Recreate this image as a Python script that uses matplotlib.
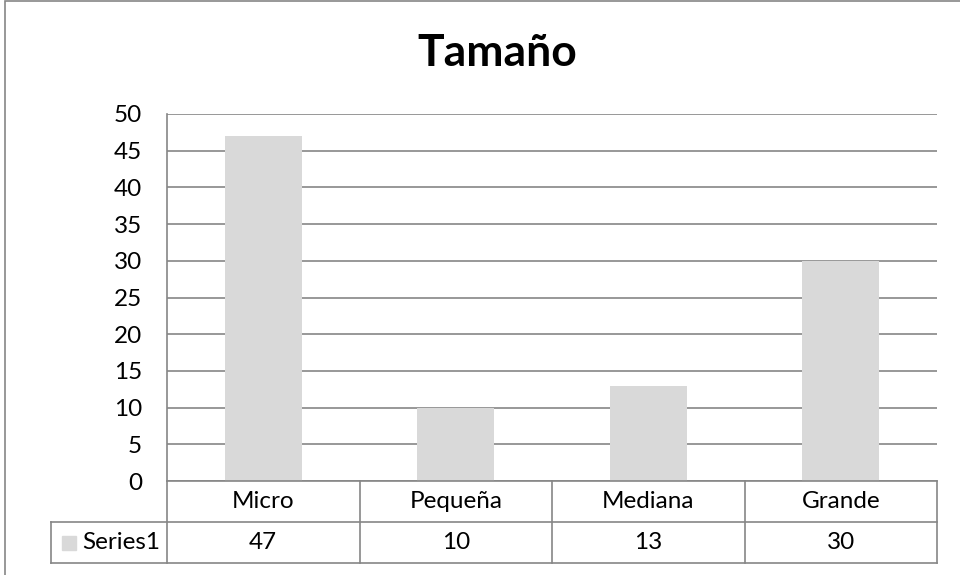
import matplotlib
matplotlib.use('Agg')
import matplotlib.pyplot as plt
from matplotlib.transforms import blended_transform_factory
from matplotlib.patches import Rectangle

# data
categories = ['Micro', 'Pequeña', 'Mediana', 'Grande']
values = [47, 10, 13, 30]
series_name = 'Series1'
y_ticks = [0, 5, 10, 15, 20, 25, 30, 35, 40, 45, 50]

bar_color = '#d9d9d9'
line_color = '#868686'
W, H = 960, 575
fs = 17.5

plt.rcParams['font.family'] = ['Lato', 'DejaVu Sans']

fig = plt.figure(figsize=(W / 100, H / 100), dpi=100)

# outer chart border (right and bottom are cut off in the original)
fig.patches.append(Rectangle((5 / W, -0.01), 1.0, 1 - 1 / H + 0.01, transform=fig.transFigure,
                             fill=False, edgecolor=line_color, linewidth=1.2))

# plot area in pixels
left, right, top, bottom = 167, 937, 114, 481
ax = fig.add_axes([left / W, 1 - bottom / H, (right - left) / W, (bottom - top) / H])

x = list(range(len(categories)))
ax.bar(x, values, width=0.4, color=bar_color, zorder=2)

ax.set_xlim(-0.5, len(categories) - 0.5)
ax.set_ylim(0, 50)
ax.set_yticks(y_ticks)
ax.set_yticklabels([str(t) for t in y_ticks], fontsize=fs)
ax.tick_params(axis='y', length=0, pad=18)
ax.set_xticks([])
ax.yaxis.grid(True, color=line_color, linewidth=1.2, zorder=1)
ax.set_axisbelow(True)
for s in ['top', 'right', 'bottom']:
    ax.spines[s].set_visible(False)
ax.spines['left'].set_color(line_color)
ax.spines['left'].set_linewidth(1.2)

# data table below the axis
tr = blended_transform_factory(ax.transData, ax.transAxes)
row_h = 41 / (bottom - top)
px_per_cat = (right - left) / len(categories)
x_left_cell = -0.5 - (left - 51) / px_per_cat
lw = 1.2

def hline(y, x0, x1):
    ax.plot([x0, x1], [y, y], color=line_color, lw=lw, transform=tr, clip_on=False)

def vline(xv, y0, y1):
    ax.plot([xv, xv], [y0, y1], color=line_color, lw=lw, transform=tr, clip_on=False)

hline(0, -0.5, len(categories) - 0.5)
hline(-row_h, x_left_cell, len(categories) - 0.5)
hline(-2 * row_h, x_left_cell, len(categories) - 0.5)
for i in range(len(categories) + 1):
    vline(i - 0.5, 0, -2 * row_h)
vline(x_left_cell, -row_h, -2 * row_h)

for i, (c, v) in enumerate(zip(categories, values)):
    ax.text(i, -row_h / 2, c, transform=tr, ha='center', va='center', fontsize=fs)
    ax.text(i, -1.5 * row_h, str(v), transform=tr, ha='center', va='center', fontsize=fs)

# legend key + series name
key_x = x_left_cell + 11 / px_per_cat
key_w = 14 / px_per_cat
key_h = 14 / (bottom - top)
ax.add_patch(Rectangle((key_x, -1.5 * row_h - key_h / 2), key_w, key_h, transform=tr,
                       color=bar_color, clip_on=False))
ax.text(key_x + key_w + 6 / px_per_cat, -1.5 * row_h, series_name, transform=tr,
        ha='left', va='center', fontsize=fs)

fig.text(497 / W, 1 - 53 / H, 'Tamaño', ha='center', va='center', fontsize=32, fontweight='bold')

fig.savefig('out.png', dpi=100)
